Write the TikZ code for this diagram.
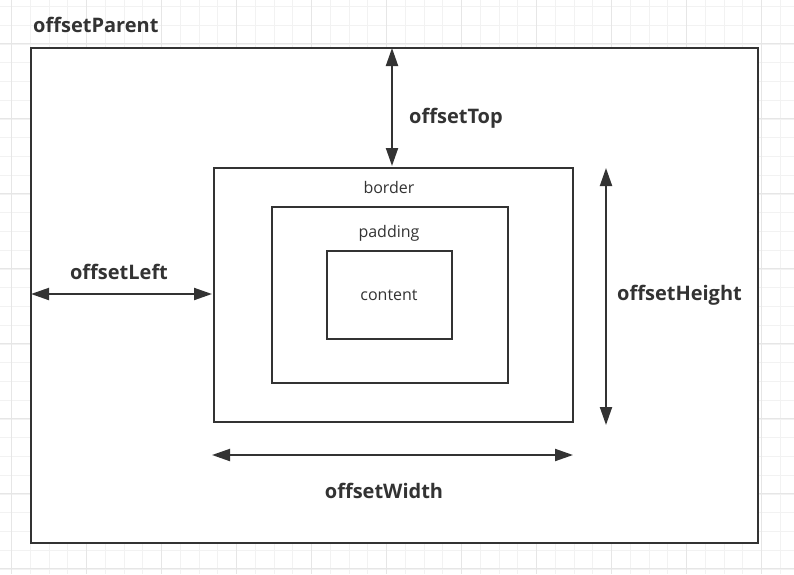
\documentclass[tikz,border=0pt]{standalone}
\usepackage{fontspec}
\setmainfont{Open Sans}
\usetikzlibrary{arrows.meta}
\definecolor{ink}{HTML}{333333}
\definecolor{gridminor}{HTML}{F2F2F2}
\definecolor{gridmajor}{HTML}{E6E6E6}
\tikzset{
  box/.style={draw=ink, line width=2pt},
  dim/.style={draw=ink, line width=2pt, {Triangle[length=18pt,width=12pt]}-{Triangle[length=18pt,width=12pt]}, fill=ink},
  big/.style={font=\bfseries\fontsize{20}{22}\selectfont, text=ink, inner sep=0pt},
  small/.style={font=\fontsize{16}{18}\selectfont, text=ink, inner sep=0pt}
}
\begin{document}
\begin{tikzpicture}[x=1pt,y=-1pt]
\useasboundingbox (0,0) rectangle (794,574);
\fill[white] (0,0) rectangle (794,574);
% grid
\foreach \k in {0,...,42} {
  \draw[gridminor, line width=1pt] ({11.7+18.75*\k},0) -- ({11.7+18.75*\k},574);
}
\foreach \k in {0,...,30} {
  \draw[gridminor, line width=1pt] (0,{6.7+18.75*\k}) -- (794,{6.7+18.75*\k});
}
\foreach \k in {0,...,10} {
  \draw[gridmajor, line width=1pt] ({11.7+75*\k},0) -- ({11.7+75*\k},574);
}
\foreach \k in {0,...,7} {
  \draw[gridmajor, line width=1pt] (0,{43.3+75*\k}) -- (794,{43.3+75*\k});
}
% outer
\node[box, fill=white, minimum width=727pt, minimum height=495pt, anchor=north west, inner sep=0pt] (parent) at (29.5,46.5) {};
\node[big, anchor=west] (ptitle) at (33,25) {offsetParent};
% boxes
\node[box, minimum width=359pt, minimum height=254pt, anchor=north west, inner sep=0pt] (border) at (212.5,166.5) {};
\node[box, minimum width=236pt, minimum height=176pt, anchor=north west, inner sep=0pt] (padding) at (270.5,206) {};
\node[box, minimum width=125pt, minimum height=88pt, anchor=north west, inner sep=0pt] (content) at (326,250) {};
\node[small] (tb) at (389,187) {border};
\node[small] (tp) at (389,233) {padding};
\node[small] (tc) at (389,295) {content};
% dimension coordinates
\coordinate (topA) at (392,48);
\coordinate (topB) at (392,166);
\coordinate (leftA) at (31,294);
\coordinate (leftB) at (212,294);
\coordinate (hA) at (606,168);
\coordinate (hB) at (606,425);
\coordinate (wA) at (212,455);
\coordinate (wB) at (573,455);
\draw[dim] (topA) -- (topB);
\draw[dim] (leftA) -- (leftB);
\draw[dim] (hA) -- (hB);
\draw[dim] (wA) -- (wB);
\node[big, anchor=west] (ltop) at (409,118) {offsetTop};
\node[big] (lleft) at (119,272) {offsetLeft};
\node[big, anchor=west] (lh) at (617,295) {offsetHeight};
\node[big] (lw) at (384,491) {offsetWidth};
\end{tikzpicture}
\end{document}
